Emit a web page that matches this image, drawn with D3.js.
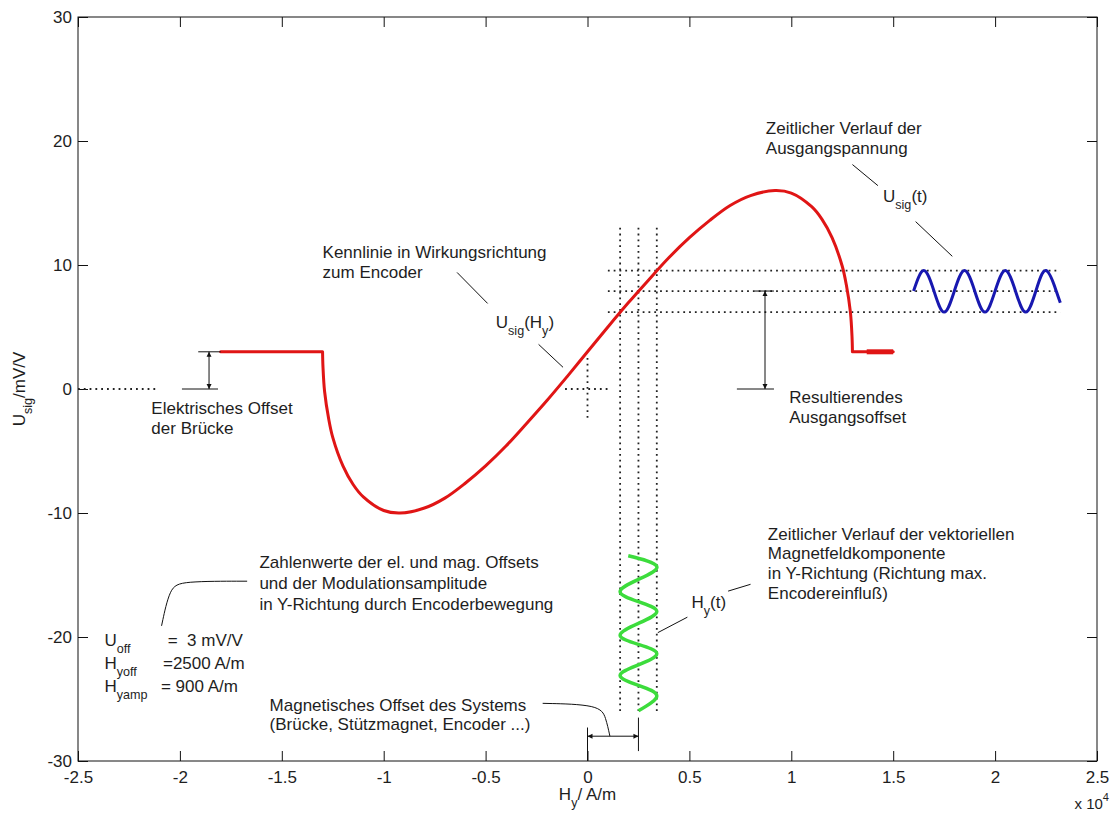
<!DOCTYPE html>
<html>
<head>
<meta charset="utf-8">
<script src="https://cdn.jsdelivr.net/npm/d3@7"></script>
<style>
  body { margin: 0; background: #fff; }
  svg text { font-family: "Liberation Sans", Arial, Helvetica, sans-serif; fill: #1e1e1e; white-space: pre; }
</style>
</head>
<body>
<div id="chart"></div>
<script>
//////////////////////////////
// Data //
//////////////////////////////

// Axis ticks (H_y in 10^4 A/m, U_sig in mV/V)
var xTicks = [-2.5, -2, -1.5, -1, -0.5, 0, 0.5, 1, 1.5, 2, 2.5];
var yTicks = [-30, -20, -10, 0, 10, 20, 30];

// Characteristic U_sig(H_y), red
var kennlinie = [
  [-1.80, 3.0], [-1.30, 3.0], [-1.298, 1.8], [-1.29, -0.2], [-1.27, -2.4], [-1.25, -3.9],
  [-1.20, -6.2], [-1.15, -7.7], [-1.10, -8.7], [-1.00, -9.8], [-0.92, -10.0], [-0.80, -9.6],
  [-0.70, -8.8], [-0.60, -7.6], [-0.50, -6.2], [-0.40, -4.6], [-0.30, -2.8], [-0.20, -0.95],
  [-0.10, 1.0], [0.00, 3.0], [0.10, 5.0], [0.20, 6.95], [0.30, 8.8], [0.40, 10.6],
  [0.50, 12.2], [0.60, 13.6], [0.70, 14.8], [0.80, 15.6], [0.92, 16.0], [1.00, 15.8],
  [1.10, 14.7], [1.15, 13.7], [1.20, 12.2], [1.25, 9.9], [1.27, 8.4], [1.29, 6.2],
  [1.298, 4.2], [1.30, 3.0], [1.50, 3.0]
];
// thicker end piece of the red line
var kennlinieEnde = [[1.37, 3.0], [1.50, 3.0]];

// Output voltage over time U_sig(t), blue
var ausgangSignal = [
  [1.60, 7.9], [1.65, 9.55], [1.70, 7.9], [1.75, 6.2], [1.80, 7.9], [1.85, 9.55],
  [1.90, 7.9], [1.95, 6.2], [2.00, 7.9], [2.05, 9.55], [2.10, 7.9], [2.15, 6.2],
  [2.20, 7.9], [2.25, 9.55], [2.30, 7.9], [2.32, 6.95]
];

// Field component over time H_y(t), green (H, U-position)
var feldSignal = [
  [0.20, -13.45], [0.34, -14.3], [0.25, -15.35], [0.16, -16.35], [0.25, -17.15],
  [0.34, -17.95], [0.25, -18.9], [0.16, -19.85], [0.25, -20.6], [0.34, -21.35],
  [0.25, -22.25], [0.16, -23.1], [0.25, -23.9], [0.34, -24.75], [0.25, -25.95]
];

// Operating point guide levels
var hLevels = [0.16, 0.25, 0.34];
var uLevels = [6.2, 7.9, 9.55];

//////////////////
// Chart set-up //
//////////////////
var margin = {top: 17, right: 15, bottom: 54, left: 78};
var width = 1112 - margin.left - margin.right;
var height = 815 - margin.top - margin.bottom;

var xScale = d3.scaleLinear().domain([-2.5, 2.5]).range([0, width]),
    yScale = d3.scaleLinear().domain([-30, 30]).range([height, 0]);

var svg = d3.select("#chart").append("svg")
    .attr("width", width + margin.left + margin.right)
    .attr("height", height + margin.top + margin.bottom)
    .append("g")
    .attr("transform", "translate(" + margin.left + "," + margin.top + ")");

var defs = svg.append("defs");
defs.append("marker")
    .attr("id", "arrow")
    .attr("viewBox", "0 0 10 10")
    .attr("refX", 10).attr("refY", 5)
    .attr("markerWidth", 5).attr("markerHeight", 7)
    .attr("markerUnits", "userSpaceOnUse")
    .attr("orient", "auto-start-reverse")
    .append("path")
    .attr("d", "M0,0L10,5L0,10z")
    .attr("fill", "#111");

var line = d3.line()
    .x(function(d) { return xScale(d[0]); })
    .y(function(d) { return yScale(d[1]); });

// helper: text with sub/superscripts
function richText(g, px, py, parts, size) {
  size = size || 17;
  var t = g.append("text").attr("x", px).attr("y", py).style("font-size", size + "px");
  var shift = 0;
  parts.forEach(function(p) {
    var target = p.sub ? 7 : (p.sup ? -8 : 0);
    var ts = t.append("tspan").attr("dy", target - shift).text(p.t);
    if (p.sub || p.sup) ts.style("font-size", (size * 0.74) + "px");
    if (p.x !== undefined) ts.attr("x", xScale(p.x));
    shift = target;
  });
  return t;
}

function textBlock(pos, lines, spacing) {
  lines.forEach(function(l, i) {
    svg.append("text")
      .attr("x", xScale(pos[0]))
      .attr("y", yScale(pos[1]) + i * spacing)
      .style("font-size", "17px")
      .text(l);
  });
}

function segment(pts, arrows, width) {
  var p = svg.append("path")
    .attr("d", line(pts))
    .attr("fill", "none")
    .attr("stroke", "#111")
    .attr("stroke-width", width || 1);
  if (arrows) p.attr("marker-start", "url(#arrow)").attr("marker-end", "url(#arrow)");
  return p;
}

function dotted(pts) {
  svg.append("path")
    .attr("d", line(pts))
    .attr("fill", "none")
    .attr("stroke", "#222")
    .attr("stroke-width", 1.8)
    .attr("stroke-dasharray", "1.8,4");
}

//////////
// Axes //
//////////
svg.append("rect")
    .attr("width", width).attr("height", height)
    .attr("fill", "none").attr("stroke", "#111");

function styleAxis(g) {
  g.select(".domain").remove();
  g.selectAll("line").attr("stroke", "#111");
  g.selectAll("text").style("font-size", "17px");
  g.attr("font-family", null);
}

svg.append("g")
    .attr("transform", "translate(0," + height + ")")
    .call(d3.axisBottom(xScale).tickValues(xTicks).tickFormat(function(d) { return String(d); })
      .tickSizeInner(-10).tickSizeOuter(0).tickPadding(10))
    .call(styleAxis);

svg.append("g")
    .call(d3.axisTop(xScale).tickValues(xTicks).tickFormat("").tickSizeInner(-10).tickSizeOuter(0))
    .call(styleAxis);

svg.append("g")
    .call(d3.axisLeft(yScale).tickValues(yTicks).tickFormat(function(d) { return String(d); })
      .tickSizeInner(-10).tickSizeOuter(0).tickPadding(6))
    .call(styleAxis);

svg.append("g")
    .attr("transform", "translate(" + width + ",0)")
    .call(d3.axisRight(yScale).tickValues(yTicks).tickFormat("").tickSizeInner(-10).tickSizeOuter(0))
    .call(styleAxis);

// axis labels
richText(svg, width / 2, height + 39, [{t: "H"}, {t: "y", sub: true}, {t: "/ A/m"}])
    .attr("text-anchor", "middle");
richText(svg, 0, 0, [{t: "U"}, {t: "sig", sub: true}, {t: "/mV/V"}])
    .attr("text-anchor", "middle")
    .attr("transform", "translate(-53," + (height / 2) + ") rotate(-90)");
richText(svg, width + 12, height + 48, [{t: "x 10"}, {t: "4", sup: true}], 15)
    .attr("text-anchor", "end");

/////////////////
// Guide lines //
/////////////////
dotted([[-2.5, 0], [-2.11, 0]]);
dotted([[-0.11, 0], [0.10, 0]]);
dotted([[0, 2.5], [0, -2.5]]);
hLevels.forEach(function(h) { dotted([[h, 13], [h, -26]]); });
uLevels.forEach(function(u) { dotted([[0.10, u], [2.32, u]]); });

//////////
// Data //
//////////
var nK = kennlinie.length;
// flat parts straight, the bent body smoothed
[kennlinie.slice(0, 2), kennlinie.slice(nK - 2)].forEach(function(seg) {
  svg.append("path")
    .attr("d", line(seg))
    .attr("fill", "none").attr("stroke", "#e01515").attr("stroke-width", 3)
    .attr("stroke-linecap", "round");
});
svg.append("path")
    .attr("d", line.curve(d3.curveCatmullRom.alpha(0.5))(kennlinie.slice(1, nK - 1)))
    .attr("fill", "none").attr("stroke", "#e01515").attr("stroke-width", 3);
line.curve(d3.curveLinear);
svg.append("path")
    .attr("d", line(kennlinieEnde))
    .attr("fill", "none").attr("stroke", "#e01515").attr("stroke-width", 5);

svg.append("path")
    .attr("d", line.curve(d3.curveNatural)(ausgangSignal))
    .attr("fill", "none").attr("stroke", "#1818b0").attr("stroke-width", 3);

svg.append("path")
    .attr("d", line.curve(d3.curveNatural)(feldSignal))
    .attr("fill", "none").attr("stroke", "#3cdc3c").attr("stroke-width", 3.5);
line.curve(d3.curveLinear);

/////////////////
// Annotations //
/////////////////
// electrical offset
segment([[-1.99, 0], [-1.813, 0]]);
segment([[-1.91, 3], [-1.80, 3]]);
segment([[-1.857, 3], [-1.857, 0]], true);
textBlock([-2.14, -2.05], ["Elektrisches Offset", "der Brücke"], 20);

// characteristic
textBlock([-1.30, 10.6], ["Kennlinie in Wirkungsrichtung", "zum Encoder"], 20);
segment([[-0.64, 9.4], [-0.49, 6.9]]);
richText(svg, xScale(-0.45), yScale(4.95), [{t: "U"}, {t: "sig", sub: true}, {t: "(H"}, {t: "y", sub: true}, {t: ")"}]);
segment([[-0.24, 3.6], [-0.12, 1.75]]);

// output voltage over time
textBlock([0.875, 20.6], ["Zeitlicher Verlauf der", "Ausgangspannung"], 20);
segment([[1.30, 18.1], [1.425, 16.4]]);
richText(svg, xScale(1.45), yScale(15.1), [{t: "U"}, {t: "sig", sub: true}, {t: "(t)"}]);
segment([[1.61, 13.5], [1.79, 10.7]]);

// resulting output offset
segment([[0.733, 0], [0.915, 0]]);
segment([[0.82, 7.9], [0.915, 7.9]]);
segment([[0.871, 7.9], [0.871, 0]], true);
textBlock([0.99, -1.1], ["Resultierendes", "Ausgangsoffset"], 20);

// field over time
textBlock([0.885, -12.15], ["Zeitlicher Verlauf der vektoriellen", "Magnetfeldkomponente",
  "in Y-Richtung (Richtung max.", "Encodereinfluß)"], 19.7);
richText(svg, xScale(0.51), yScale(-17.7), [{t: "H"}, {t: "y", sub: true}, {t: "(t)"}]);
segment([[0.49, -18.4], [0.345, -19.65]]);
segment([[0.69, -16.3], [0.80, -15.75]]);

// numbers block
textBlock([-1.61, -14.4], ["Zahlenwerte der el. und mag. Offsets", "und der Modulationsamplitude",
  "in Y-Richtung durch Encoderbewegung"], 21);
line.curve(d3.curveBasis);
segment([[-2.09, -19.1], [-2.05, -16.0], [-1.99, -15.5], [-1.67, -15.5]]);
line.curve(d3.curveLinear);
var valueLines = [
  [{t: "U"}, {t: "off", sub: true}, {t: "=  3 mV/V", x: -2.06}],
  [{t: "H"}, {t: "yoff", sub: true}, {t: "=2500 A/m", x: -2.083}],
  [{t: "H"}, {t: "yamp", sub: true}, {t: "= 900 A/m", x: -2.093}]
];
valueLines.forEach(function(parts, i) {
  richText(svg, xScale(-2.37), yScale(-20.75) + i * 23, parts);
});

// magnetic offset
textBlock([-1.56, -26.0], ["Magnetisches Offset des Systems", "(Brücke, Stützmagnet, Encoder ...)"], 19);
line.curve(d3.curveBasis);
segment([[-0.22, -25.35], [0.06, -25.45], [0.09, -26.5], [0.11, -28.0]]);
line.curve(d3.curveLinear);
segment([[0, -27.3], [0, -30]]);
segment([[0.25, -26.5], [0.25, -29.2]]);
segment([[0, -28.0], [0.25, -28.0]], true);
</script>
</body>
</html>
